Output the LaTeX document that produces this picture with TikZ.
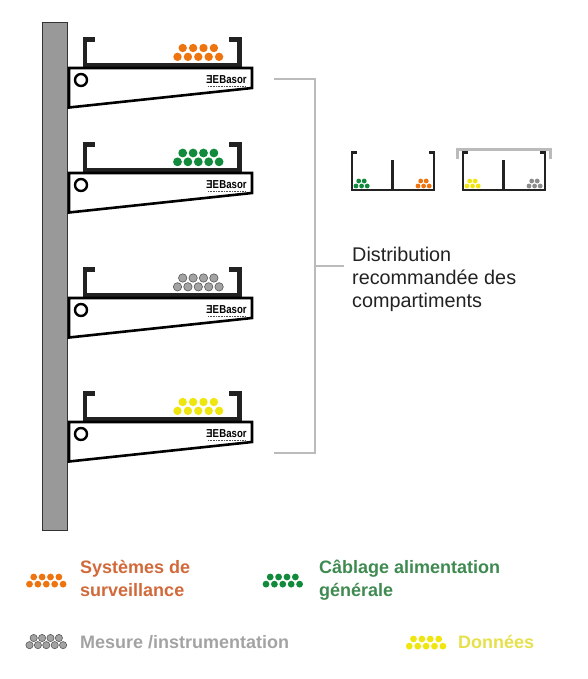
\documentclass[tikz,border=0pt]{standalone}
\usepackage{fontspec}
\setmainfont{Liberation Sans}
\usepackage{graphicx}
\definecolor{wallgray}{HTML}{999999}
\definecolor{bracegray}{HTML}{BBBBBB}
\definecolor{traydark}{HTML}{222222}
\definecolor{cableorange}{HTML}{EE7410}
\definecolor{cablegreen}{HTML}{128A3C}
\definecolor{cablegray}{HTML}{8C8C8C}
\definecolor{cableyellow}{HTML}{F0E60F}
\definecolor{textorange}{HTML}{D2693A}
\definecolor{textgreen}{HTML}{3F8A50}
\definecolor{textgray}{HTML}{A3A3A3}
\definecolor{textyellow}{HTML}{E6E04C}
\newcommand{\cablebundle}[5]{% x, y, radius, step, colour
  \foreach \i in {0,...,3}
    \fill[#5] ({#1+(\i+0.5)*#4},{#2}) circle (#3);
  \foreach \i in {0,...,4}
    \fill[#5] ({#1+\i*#4},{#2+0.85*#4}) circle (#3);
}
\newcommand{\graybundle}[4]{% x, y, radius, step
  \foreach \i in {0,...,3}
    \filldraw[fill=cablegray!80,draw=black!65,line width=0.6pt] ({#1+(\i+0.5)*#4},{#2}) circle (#3);
  \foreach \i in {0,...,4}
    \filldraw[fill=cablegray!80,draw=black!65,line width=0.6pt] ({#1+\i*#4},{#2+0.85*#4}) circle (#3);
}
\newcommand{\smallbundle}[3]{% x, y, colour
  \fill[#3] ({#1+2.7},{#2}) circle (2.4);
  \fill[#3] ({#1+8.2},{#2}) circle (2.4);
  \foreach \i in {0,1,2}
    \fill[#3] ({#1+\i*5.6},{#2+5}) circle (2.4);
}
\begin{document}
\begin{tikzpicture}[x=1pt, y=-1pt,
  tray/.style={draw=traydark, line width=4.5pt, miter limit=10},
  smalltray/.style={draw=traydark, line width=2.4pt},
  brace/.style={draw=bracegray, line width=2.5pt},
  legend/.style={font=\bfseries\fontsize{18}{23}\selectfont, align=left, anchor=west}]
  \useasboundingbox (0,0) rectangle (587,679);

  % wall
  \filldraw[fill=wallgray, draw=black!80, line width=1pt] (42,23) rectangle (67.5,530);

  % arms and trays
  \foreach \dy/\name in {0/a,105/b,230/c,354/d} {
    \begin{scope}[yshift=-\dy pt]
      \draw[tray] (94.5,39.5) -- (85,39.5) -- (85,65) -- (239.5,65) -- (239.5,39.5) -- (229,39.5);
      \filldraw[fill=white, draw=black, line width=2.6pt] (69,68) -- (252,68) -- (252,88) -- (69,107.5) -- cycle;
      \draw[black, line width=2.4pt] (81,80) circle (6);
      \node[inner sep=0pt, font=\bfseries\fontsize{9.6}{9.6}\selectfont, black] (logo\name) at (226.5,79.5)
        {\scalebox{1}[1.2]{\scalebox{-1}[1]{E}E\hspace{0.3pt}Basor}};
      \draw[black!70, line width=0.9pt, dash pattern=on 1pt off 0.6pt] (208,86) -- (245,86);
    \end{scope}
  }

  % cables on the trays
  \cablebundle{177.5}{48}{4.2}{10.4}{cableorange}
  \cablebundle{177.5}{153}{4.4}{10.4}{cablegreen}
  \graybundle{177.5}{278}{4.2}{10.4}
  \cablebundle{177.5}{402}{4.2}{10.4}{cableyellow}

  % brace
  \draw[brace] (274,79) -- (315,79) -- (315,453) -- (274,453);
  \draw[brace] (315,266) -- (344,266);

  % compartments
  \draw[smalltray] (357,152.5) -- (352,152.5) -- (352,190) -- (434,190) -- (434,152.5) -- (429,152.5);
  \draw[smalltray] (392.5,160) -- (392.5,190);
  \draw[smalltray] (468,152.5) -- (463,152.5) -- (463,190) -- (545,190) -- (545,152.5) -- (540,152.5);
  \draw[smalltray] (503.5,160) -- (503.5,190);
  \draw[brace, line width=3pt] (457.5,159.5) -- (457.5,149.5) -- (550,149.5) -- (550,159.5);
  \smallbundle{356}{181}{cablegreen}
  \smallbundle{418}{181}{cableorange}
  \smallbundle{467}{181}{cableyellow}
  \smallbundle{529}{181}{cablegray}

  \node[anchor=north west, inner sep=0pt, align=left, text=traydark,
    font=\fontsize{19.8}{23}\selectfont] (title) at (352,247)
    {Distribution\\recommandée des\\compartiments};

  % legend
  \cablebundle{29.5}{577}{3.4}{8.4}{cableorange}
  \cablebundle{266}{577}{3.4}{8.4}{cablegreen}
  \graybundle{29.5}{638}{3.6}{8.4}
  \cablebundle{409.3}{639}{3.4}{8.4}{cableyellow}
  \node[legend, text=textorange, inner sep=0pt] (surveillance) at (80,578.5) {Systèmes de\\surveillance};
  \node[legend, text=textgreen, inner sep=0pt] (cablage) at (319,580.5) {Câblage alimentation\\générale};
  \node[legend, text=textgray, inner sep=0pt] (mesure) at (80,642) {Mesure /instrumentation};
  \node[legend, text=textyellow, inner sep=0pt] (donnees) at (458,642) {Données};
\end{tikzpicture}
\end{document}
